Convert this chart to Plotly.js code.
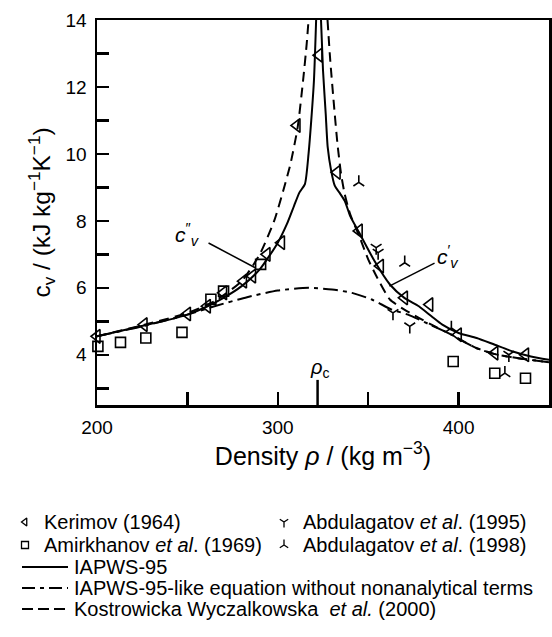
<!DOCTYPE html>
<html><head><meta charset="utf-8">
<script src="https://cdn.plot.ly/plotly-3.0.1.min.js"></script>
<style>html,body{margin:0;padding:0;background:#fff}#chart{width:552px;height:637px}</style>
</head><body><div id="chart"></div>
<script>
const FONT = 'Liberation Sans, Arial, Helvetica, sans-serif';

// IAPWS-95, saturated vapour branch (c_v'')
const rhoVapIapws = [200, 220, 240, 250, 260, 270, 280, 290, 300, 305, 309, 312, 315, 317, 318.5, 320, 321.2];
const cvVapIapws  = [4.55, 4.8, 5.05, 5.2, 5.42, 5.7, 6.05, 6.55, 7.35, 7.9, 8.45, 8.85, 9.1, 10.0, 11.0, 12.2, 14];
// IAPWS-95, saturated liquid branch (c_v')
const rhoLiqIapws = [323.9, 325, 326.5, 327.6, 329.5, 331.5, 334, 337, 340, 345, 353.5, 362, 370, 378, 385, 391, 400, 410, 420, 430, 440, 450];
const cvLiqIapws  = [14, 12.5, 11.2, 10.2, 9.5, 9.05, 8.85, 8.6, 8.15, 7.65, 6.8, 6.1, 5.7, 5.45, 5.15, 4.9, 4.65, 4.5, 4.3, 4.1, 3.95, 3.85];
// IAPWS-95-like equation without nonanalytical terms
const rhoNoNa = [200, 225, 250, 265, 283, 300, 317, 330, 341, 352, 363, 372, 385, 396, 409, 420, 435, 450];
const cvNoNa  = [4.55, 4.85, 5.2, 5.45, 5.72, 5.92, 6.0, 5.95, 5.85, 5.65, 5.35, 5.2, 4.88, 4.6, 4.22, 4.02, 3.88, 3.78];
// Kostrowicka Wyczalkowska et al. (2000), vapour branch
const rhoVapKW = [200, 230, 250, 265, 280, 290, 298, 303, 307, 311, 314, 316, 317];
const cvVapKW  = [4.55, 4.95, 5.25, 5.6, 6.2, 7.0, 8.0, 8.9, 9.7, 10.8, 12.2, 13.3, 14];
// Kostrowicka Wyczalkowska et al. (2000), liquid branch
const rhoLiqKW = [327.5, 329, 331, 333, 335, 337, 340, 345, 350, 355, 362, 370, 378, 385, 396, 409, 420, 435, 450];
const cvLiqKW  = [14, 12.8, 11.5, 10.3, 9.4, 8.8, 8.2, 7.55, 6.85, 6.3, 5.65, 5.35, 5.1, 4.9, 4.6, 4.22, 4.02, 3.88, 3.78];

// Experimental data
const rhoKerimov = [200, 226, 250, 261, 270, 281, 286, 294, 302, 310.6, 322.8, 332.8, 345, 356.7, 370, 384, 399.8, 420, 437];
const cvKerimov  = [4.55, 4.9, 5.22, 5.45, 5.85, 6.2, 6.35, 7.0, 7.35, 10.85, 12.95, 9.45, 7.7, 6.65, 5.7, 5.5, 4.6, 4.05, 4.0];
const rhoAmirkhanov = [200.5, 213, 227, 247, 263, 270, 290.5, 397, 420, 437];
const cvAmirkhanov  = [4.25, 4.37, 4.5, 4.67, 5.66, 5.9, 6.7, 3.8, 3.45, 3.3];
const rhoAbd1995 = [354.4, 355.5, 363.7, 373, 427.8];
const cvAbd1995  = [7.2, 7.05, 5.25, 4.85, 4.0];
const rhoAbd1998 = [344.8, 370.2, 396, 425.6];
const cvAbd1998  = [9.15, 6.75, 4.8, 3.45];

// Critical density marker
const rhoC = 322;

// Axis ticks
const xTickVals = [200, 300, 400];
const xTickText = ['200', '300', '400'];
const yTickVals = [4, 6, 8, 10, 12, 14];
const yTickText = ['4', '6', '8', '10', '12', '14'];

// Legend labels
const legendMarkers = [
  {name: 'Kerimov (1964)', symbol: 'triangle-left-open'},
  {name: 'Abdulagatov <i>et al</i>. (1995)', symbol: 'y-down-open'},
  {name: 'Amirkhanov <i>et al</i>. (1969)', symbol: 'square-open'},
  {name: 'Abdulagatov <i>et al</i>. (1998)', symbol: 'y-up-open'}
];
const legendLines = [
  {name: 'IAPWS-95', dash: 'solid'},
  {name: 'IAPWS-95-like equation without nonanalytical terms', dash: '13px,5px,4px,5px'},
  {name: 'Kostrowicka Wyczalkowska  <i>et al.</i> (2000)', dash: '11px,5px'}
];

const K = '#000';
const DASH_KW = '10px,6px';
const DASH_NONA = '15px,5px,4px,5px';

function line(x, y, dash) {
  return {x, y, mode: 'lines', type: 'scatter', showlegend: false, hoverinfo: 'skip',
    line: {color: K, width: 2, dash: dash || 'solid', shape: 'spline', smoothing: 0.6}};
}
function pts(x, y, symbol, size) {
  return {x, y, mode: 'markers', type: 'scatter', showlegend: false, cliponaxis: false,
    marker: {symbol, size, color: K, line: {color: K, width: 1.6}}};
}

const traces = [
  line(rhoNoNa, cvNoNa, DASH_NONA),
  line(rhoVapKW, cvVapKW, DASH_KW),
  line(rhoLiqKW, cvLiqKW, DASH_KW),
  line(rhoVapIapws, cvVapIapws),
  line(rhoLiqIapws, cvLiqIapws),
  pts(rhoKerimov, cvKerimov, 'triangle-left-open', 12),
  pts(rhoAmirkhanov, cvAmirkhanov, 'square-open', 10),
  pts(rhoAbd1995, cvAbd1995, 'y-down-open', 9),
  pts(rhoAbd1998, cvAbd1998, 'y-up-open', 9)
];

// Legend block (pixel-like coordinates on a hidden axis pair)
const legRowY = [522, 545];
const legColX = [25, 284];
const lx = [], ly = [], ls = [];
legendMarkers.forEach((m, i) => {
  lx.push(legColX[i % 2]); ly.push(legRowY[Math.floor(i / 2)]); ls.push(m.symbol);
});
traces.push({x: lx, y: ly, xaxis: 'x2', yaxis: 'y2', mode: 'markers', type: 'scatter',
  showlegend: false, hoverinfo: 'skip', cliponaxis: false,
  marker: {symbol: ls, size: 7, color: K, line: {color: K, width: 1.3}}});

const LEG_FS = 20;
const annotations = [];
const shapes = [];
legendMarkers.forEach((m, i) => {
  annotations.push({xref: 'x2', yref: 'y2', x: legColX[i % 2] + 18, y: legRowY[Math.floor(i / 2)],
    text: m.name, showarrow: false, xanchor: 'left', yanchor: 'middle', borderpad: 0,
    font: {family: FONT, size: LEG_FS, color: K}});
});
const lineRowY = [567, 588, 609];
legendLines.forEach((l, i) => {
  shapes.push({type: 'line', xref: 'x2', yref: 'y2', x0: 22, x1: 68, y0: lineRowY[i], y1: lineRowY[i],
    line: {color: K, width: 2, dash: l.dash}});
  annotations.push({xref: 'x2', yref: 'y2', x: 73, y: lineRowY[i], text: l.name, showarrow: false,
    xanchor: 'left', yanchor: 'middle', borderpad: 0, font: {family: FONT, size: LEG_FS, color: K}});
});

// Critical density tick and label
shapes.push({type: 'line', xref: 'x', yref: 'y', x0: rhoC, x1: rhoC, y0: 2.5, y1: 3.25,
  line: {color: K, width: 2.5}});
annotations.push({xref: 'x', yref: 'y', x: rhoC + 1, y: 3.58, text: '<i>ρ</i><sub>c</sub>',
  showarrow: false, xanchor: 'center', yanchor: 'middle', font: {family: FONT, size: 20, color: K}});

// c_v'' and c_v' labels with leader lines
shapes.push({type: 'line', xref: 'x', yref: 'y', x0: 261.7, y0: 7.34, x1: 287.8, y1: 6.59,
  line: {color: K, width: 1.5}});
shapes.push({type: 'line', xref: 'x', yref: 'y', x0: 386.7, y0: 6.74, x1: 361.7, y1: 6.05,
  line: {color: K, width: 1.5}});
annotations.push({xref: 'x', yref: 'y', x: 250, y: 7.6, text: '<i>c</i><sup>″</sup><sub><i>v</i></sub>',
  showarrow: false, xanchor: 'center', yanchor: 'middle', font: {family: FONT, size: 21, color: K}});
annotations.push({xref: 'x', yref: 'y', x: 394, y: 6.95, text: '<i>c</i><sup>′</sup><sub><i>v</i></sub>',
  showarrow: false, xanchor: 'center', yanchor: 'middle', font: {family: FONT, size: 21, color: K}});

const layout = {
  width: 552, height: 637,
  margin: {l: 0, r: 0, t: 0, b: 0},
  paper_bgcolor: '#fff', plot_bgcolor: '#fff',
  font: {family: FONT, size: 19, color: K},
  showlegend: false,
  xaxis: {
    domain: [97 / 552, 549 / 552], anchor: 'y',
    range: [200, 450], tickvals: xTickVals, ticktext: xTickText,
    ticks: 'inside', ticklen: 13, tickwidth: 2.5, tickcolor: K,
    minor: {dtick: 50, tick0: 200, ticks: 'inside', ticklen: 13, tickwidth: 2.5, tickcolor: K, showgrid: false},
    showline: true, linewidth: 2.5, linecolor: K, mirror: true,
    showgrid: false, zeroline: false,
    tickfont: {family: FONT, size: 19, color: K},
    ticklabelstandoff: 4,
    title: {text: 'Density <i>ρ</i> / (kg m<sup>−3</sup>)', font: {family: FONT, size: 25, color: K}, standoff: 10}
  },
  yaxis: {
    domain: [1 - 405 / 637, 1 - 20 / 637], anchor: 'x',
    range: [2.5, 14], tickvals: yTickVals, ticktext: yTickText,
    ticks: 'inside', ticklen: 12, tickwidth: 2.5, tickcolor: K,
    minor: {dtick: 1, tick0: 0, ticks: 'inside', ticklen: 12, tickwidth: 2.5, tickcolor: K, showgrid: false},
    showline: true, linewidth: 2.5, linecolor: K, mirror: true,
    showgrid: false, zeroline: false,
    tickfont: {family: FONT, size: 19, color: K},
    ticklabelstandoff: 4,
    title: {text: 'c<sub>v</sub> / (kJ kg<sup>−1</sup>K<sup>−1</sup>)', font: {family: FONT, size: 24.5, color: K}, standoff: 8}
  },
  xaxis2: {domain: [0, 1], anchor: 'y2', range: [0, 552], visible: false, fixedrange: true},
  yaxis2: {domain: [0, 135 / 637], anchor: 'x2', range: [637, 502], visible: false, fixedrange: true},
  shapes, annotations
};

Plotly.newPlot('chart', traces, layout, {displayModeBar: false, staticPlot: true});
</script>
</body></html>
